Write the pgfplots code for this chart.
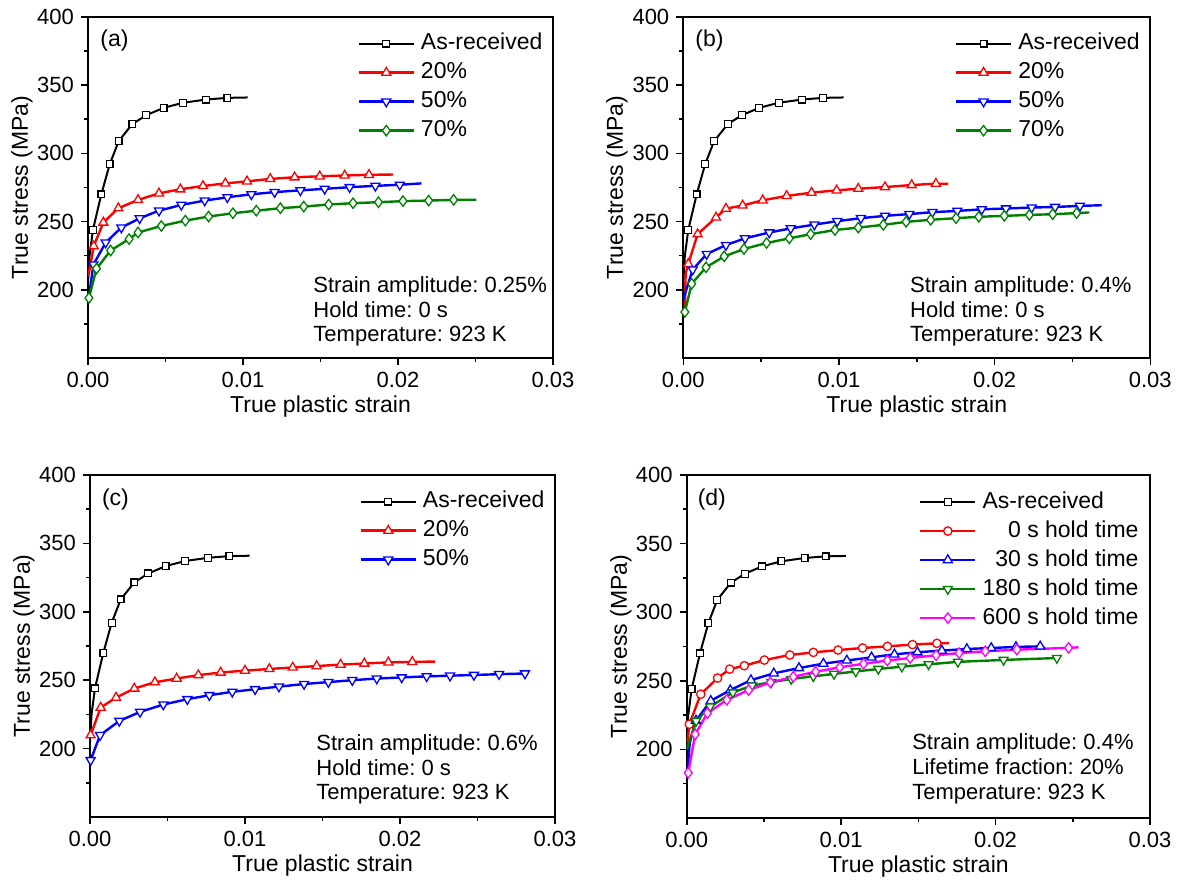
\documentclass[border=0pt]{standalone}
\usepackage{fontspec}
\setmainfont{Liberation Sans}
\usepackage{pgfplots}
\pgfplotsset{compat=1.18}
\frenchspacing
\definecolor{cgreen}{RGB}{0,128,0}
\definecolor{cred}{RGB}{255,0,0}
\definecolor{cblue}{RGB}{0,0,255}
\definecolor{cmag}{RGB}{255,0,255}
\tikzset{
  ann/.style={anchor=base west, inner sep=0pt, font=\fontsize{11}{13}\selectfont},
  lab/.style={anchor=base west, inner sep=0pt, font=\fontsize{11.5}{13}\selectfont},
}
\pgfplotsset{
  panel/.style={
    scale only axis,
    xmin=0,xmax=0.03,ymin=150,ymax=400,
    xtick={0,0.01,0.02,0.03}, xticklabels={0.00,0.01,0.02,0.03},
    minor xtick={0.005,0.015,0.025},
    ytick={200,250,...,400}, minor ytick={175,225,...,375},
    scaled x ticks=false,
    tick align=outside, tick pos=left,
    major tick length=3.5pt, minor tick length=2pt,
    tick style={black, line width=0.8pt},
    axis line style={line width=1pt},
    tick label style={font=\fontsize{11}{13}\selectfont},
    /pgf/number format/assume math mode=true,
    label style={font=\fontsize{11.5}{13}\selectfont},
    xlabel={True plastic strain}, ylabel={True stress (MPa)},
    x label style={at={(axis description cs:0.5,-0.143)},anchor=center},
    y label style={at={(axis description cs:-0.142,0.5)},anchor=center},
    legend cell align=left,
    legend style={draw=none, fill=none, anchor=north east,
      font=\fontsize{11.5}{13}\selectfont,
      nodes={inner sep=0pt, text height=8.5pt, text depth=2.5pt},
      row sep=3.5pt,
      /tikz/every odd column/.append style={column sep=3pt}},
    legend image code/.code={\draw[mark repeat=2,mark phase=2,##1] plot coordinates {(0pt,0pt) (13.75pt,0pt) (27.5pt,0pt)};},
  },
  sblack/.style={black, line width=1pt, mark=square*, mark size=1.7pt, mark options={fill=white, line width=0.6pt, solid}},
  sred/.style={cred, line width=1.2pt, mark=triangle*, mark size=2.6pt, mark options={fill=white, line width=0.65pt, solid}},
  sredc/.style={cred, line width=1.2pt, mark=*, mark size=2.1pt, mark options={fill=white, line width=0.65pt, solid}},
  sblue/.style={cblue, line width=1.2pt, mark=triangle*, mark size=2.6pt, mark options={fill=white, line width=0.65pt, solid, rotate=180}},
  sblueu/.style={cblue, line width=1.2pt, mark=triangle*, mark size=2.6pt, mark options={fill=white, line width=0.65pt, solid}},
  sgreen/.style={cgreen, line width=1.2pt, mark=diamond*, mark size=2.6pt, mark options={fill=white, line width=0.65pt, solid}},
  sgreend/.style={cgreen, line width=1.2pt, mark=triangle*, mark size=2.6pt, mark options={fill=white, line width=0.65pt, solid, rotate=180}},
  smag/.style={cmag, line width=1.2pt, mark=diamond*, mark size=2.6pt, mark options={fill=white, line width=0.65pt, solid}},
}
\newcommand{\blackcurve}{%
  \addplot[black, line width=1pt, forget plot] coordinates {(0,205) (0.0001,225) (0.00032,244)};
  \addplot[black, line width=1pt, forget plot] coordinates {(0.00899,340.7) (0.0103,341)};
  \addplot[sblack] coordinates {(0.00032,244) (0.00086,270) (0.0014,292) (0.00198,309) (0.00286,321.5) (0.00376,328) (0.00488,333.4) (0.00613,337.1) (0.00763,339.5) (0.00899,340.7)};
}
\begin{document}
\begin{tikzpicture}
\useasboundingbox (0,0) rectangle (591.5pt,440.5pt);
% ---------------- (a)
\begin{axis}[panel, at={(44pt,261.5pt)}, anchor=south west, width=232.5pt, height=170.5pt,
  legend style={at={(rel axis cs:0.991,0.967)}}]
\blackcurve
\addplot[cred, line width=1.2pt, forget plot] coordinates {(0.00002,210) (0.00037,232)};
\addplot[cred, line width=1.2pt, forget plot] coordinates {(0.01813,284.3) (0.01968,284.5)};
\addplot[sred] coordinates {(0.00037,232) (0.00099,249.3) (0.00196,259.8) (0.00323,265.9) (0.00458,270.7) (0.00596,273.7) (0.00742,276.1) (0.00886,278) (0.01026,279.5) (0.01176,281.3) (0.01333,282.5) (0.01495,283.2) (0.01656,283.8) (0.01813,284.3)};
\addplot[cblue, line width=1.2pt, forget plot] coordinates {(0,190) (0.00035,218.5)};
\addplot[cblue, line width=1.2pt, forget plot] coordinates {(0.02011,277) (0.02151,278)};
\addplot[sblue] coordinates {(0.00035,218.5) (0.00114,234.6) (0.00215,245.6) (0.00333,252.4) (0.00458,258) (0.00602,262.2) (0.00753,265.4) (0.00899,267.8) (0.01054,270) (0.01204,271.6) (0.0137,272.9) (0.01527,274) (0.01688,275.2) (0.01854,276.2) (0.02011,277)};
\addplot[cgreen, line width=1.2pt, forget plot] coordinates {(0.02359,265.9) (0.02506,266)};
\addplot[sgreen] coordinates {(0.00006,194) (0.00055,215.5) (0.00146,228.8) (0.00265,237.2) (0.00323,242) (0.00473,246.8) (0.00628,250.7) (0.00778,253.7) (0.00935,256.1) (0.01086,258) (0.01241,259.8) (0.01392,261) (0.01553,262.5) (0.0171,263.5) (0.01874,264.2) (0.02032,265) (0.02198,265.4) (0.02359,265.9)};
\legend{As-received,20\%,50\%,70\%}
\node[lab] at (rel axis cs:0.026,0.912) {(a)};
\node[ann] at (rel axis cs:0.484,0.192) {Strain amplitude: 0.25\%};
\node[ann] at (rel axis cs:0.484,0.119) {Hold time: 0 s};
\node[ann] at (rel axis cs:0.484,0.049) {Temperature: 923 K};
\end{axis}
% ---------------- (b)
\begin{axis}[panel, at={(341.65pt,261.5pt)}, anchor=south west, width=233.5pt, height=170.5pt,
  legend style={at={(rel axis cs:0.991,0.967)}}]
\blackcurve
\addplot[cred, line width=1.2pt, forget plot] coordinates {(0.0001,185) (0.00015,212) (0.00032,219)};
\addplot[cred, line width=1.2pt, forget plot] coordinates {(0.01623,277.8) (0.01702,277.6)};
\addplot[sred] coordinates {(0.00032,219) (0.00092,240.8) (0.0021,253) (0.00274,259.5) (0.00381,261.8) (0.0051,265.6) (0.00664,268.8) (0.00824,271.2) (0.00985,272.9) (0.01124,274.1) (0.01296,275.3) (0.01467,276.8) (0.01623,277.8)};
\addplot[cblue, line width=1.2pt, forget plot] coordinates {(0,193) (0.0006,214.8)};
\addplot[cblue, line width=1.2pt, forget plot] coordinates {(0.02548,261.5) (0.02688,262)};
\addplot[sblue] coordinates {(0.0006,214.8) (0.0015,226.2) (0.00274,232.8) (0.00396,237.7) (0.00552,242) (0.0069,245) (0.00842,247.8) (0.00989,250.3) (0.01141,252.5) (0.01296,254.2) (0.01452,255.5) (0.016,256.9) (0.0176,257.8) (0.01917,259) (0.02073,259.6) (0.02238,260.3) (0.02388,260.7) (0.02548,261.5)};
\addplot[cgreen, line width=1.2pt, forget plot] coordinates {(0.02527,256.2) (0.02608,256.7)};
\addplot[sgreen] coordinates {(0.0001,183.7) (0.00054,204.4) (0.00146,216.5) (0.00263,224.5) (0.0039,229.9) (0.00535,234.3) (0.00681,237.7) (0.00818,240.8) (0.00974,243.8) (0.01124,245.6) (0.01285,247.6) (0.01431,249.8) (0.01589,251.3) (0.01752,252.5) (0.01898,253.5) (0.02062,254.2) (0.02223,254.9) (0.02373,255.4) (0.02527,256.2)};
\legend{As-received,20\%,50\%,70\%}
\node[lab] at (rel axis cs:0.025,0.912) {(b)};
\node[ann] at (rel axis cs:0.485,0.192) {Strain amplitude: 0.4\%};
\node[ann] at (rel axis cs:0.485,0.119) {Hold time: 0 s};
\node[ann] at (rel axis cs:0.485,0.049) {Temperature: 923 K};
\end{axis}
% ---------------- (c)
\begin{axis}[panel, at={(45pt,32pt)}, anchor=south west, width=232.5pt, height=171pt,
  legend style={at={(rel axis cs:0.991,0.967)}}]
\blackcurve
\addplot[cred, line width=1.2pt, forget plot] coordinates {(0.02079,263.4) (0.02226,263.6)};
\addplot[sred] coordinates {(0.00004,209.8) (0.00069,230) (0.00168,237.3) (0.00286,243.9) (0.00419,248.5) (0.00559,251.2) (0.00699,253.7) (0.00843,255.6) (0.01,257) (0.01157,258.2) (0.01308,259.3) (0.01462,260.3) (0.01617,261.4) (0.0177,262.2) (0.01925,263) (0.02079,263.4)};
\addplot[cblue, line width=1.2pt, forget plot] coordinates {(0.02806,254.9) (0.02828,255.3)};
\addplot[sblue] coordinates {(0.00004,191.5) (0.00065,209.8) (0.00189,220.2) (0.00323,226.8) (0.00473,232.2) (0.00628,236.1) (0.0077,239) (0.00918,241.5) (0.01065,243.4) (0.01219,245.3) (0.01381,247.2) (0.01538,248.6) (0.01692,250) (0.0185,251.2) (0.02011,252) (0.02172,252.8) (0.02323,253.3) (0.02477,253.8) (0.02639,254.4) (0.02806,254.9)};
\legend{As-received,20\%,50\%}
\node[lab] at (rel axis cs:0.025,0.912) {(c)};
\node[ann] at (rel axis cs:0.486,0.195) {Strain amplitude: 0.6\%};
\node[ann] at (rel axis cs:0.486,0.121) {Hold time: 0 s};
\node[ann] at (rel axis cs:0.486,0.051) {Temperature: 923 K};
\end{axis}
% ---------------- (d)
\begin{axis}[panel, at={(343.35pt,31.5pt)}, anchor=south west, width=231.65pt, height=171.5pt,
  legend style={at={(rel axis cs:0.989,0.966)}}]
\blackcurve
\addplot[cred, line width=1.2pt, forget plot] coordinates {(0.00005,205) (0.00017,218.3)};
\addplot[cred, line width=1.2pt, forget plot] coordinates {(0.0162,277.3) (0.017,277.4)};
\addplot[sredc] coordinates {(0.00017,218.3) (0.00091,240.2) (0.002,252) (0.00278,258.5) (0.00373,261) (0.00503,265.1) (0.00668,268.8) (0.0082,270.7) (0.0098,272.4) (0.01139,273.9) (0.013,275.1) (0.01462,276.4) (0.0162,277.3)};
\addplot[cblue, line width=1.2pt, forget plot] coordinates {(0.00005,185) (0.0002,205) (0.0006,221)};
\addplot[cblue, line width=1.2pt, forget plot] coordinates {(0.02289,275.1) (0.0232,273.8)};
\addplot[sblueu] coordinates {(0.0006,221) (0.00156,235.4) (0.00282,243.2) (0.00416,250.5) (0.00564,255.4) (0.00727,259.3) (0.00885,262.5) (0.01037,264.8) (0.01197,267.1) (0.01345,269.3) (0.01494,270.8) (0.01652,272) (0.01814,273.2) (0.01972,273.9) (0.02132,274.7) (0.02289,275.1)};
\addplot[cgreen, line width=1.2pt, forget plot] coordinates {(0,200) (0.00061,220.7)};
\addplot[sgreend] coordinates {(0.00061,220.7) (0.00152,231.2) (0.00299,241.5) (0.00423,246.5) (0.00548,249) (0.00677,251.3) (0.0082,253.3) (0.00954,255) (0.01095,256.8) (0.01241,258.6) (0.01393,260.3) (0.01566,262) (0.01756,263.8) (0.02052,265.2) (0.02397,266.6)};
\addplot[cmag, line width=1.2pt, forget plot] coordinates {(0.02473,274) (0.02537,274.4)};
\addplot[smag] coordinates {(0.0001,182.9) (0.00055,211) (0.00134,226.3) (0.0026,236.1) (0.00401,243.2) (0.00542,248.8) (0.0069,252.9) (0.00835,256.6) (0.00991,259.8) (0.01145,262.4) (0.01299,264.8) (0.01447,266.6) (0.01615,268.6) (0.01764,270.2) (0.01933,271.5) (0.02138,272.7) (0.02473,274)};
\legend{As-received,\hphantom{60}0 s hold time,\hphantom{6}30 s hold time,180 s hold time,600 s hold time}
\node[lab] at (rel axis cs:0.023,0.912) {(d)};
\node[ann] at (rel axis cs:0.486,0.2006) {Strain amplitude: 0.4\%};
\node[ann] at (rel axis cs:0.486,0.128) {Lifetime fraction: 20\%};
\node[ann] at (rel axis cs:0.486,0.054) {Temperature: 923 K};
\end{axis}
\end{tikzpicture}
\end{document}
